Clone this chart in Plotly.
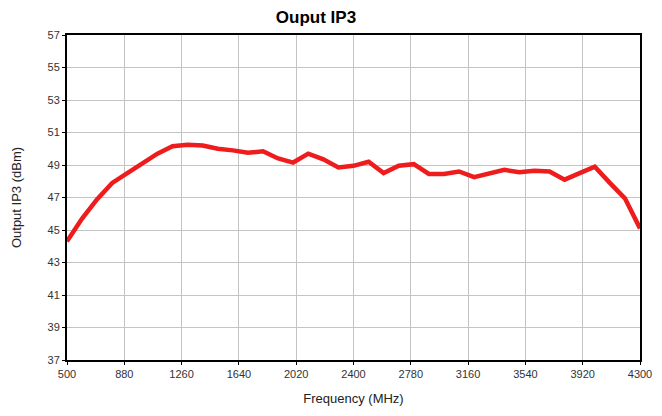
import plotly.graph_objects as go

freq_mhz = [500, 600, 700, 800, 900, 1000, 1100, 1200, 1300, 1400, 1500, 1600, 1700,
            1800, 1900, 2000, 2100, 2200, 2300, 2400, 2500, 2600, 2700, 2800, 2900,
            3000, 3100, 3200, 3300, 3400, 3500, 3600, 3700, 3800, 3900, 4000, 4100,
            4200, 4300]
oip3_dbm = [44.3, 45.7, 46.9, 47.9, 48.5, 49.1, 49.7, 50.15, 50.25, 50.2, 50.0, 49.9,
            49.75, 49.85, 49.4, 49.15, 49.7, 49.35, 48.85, 48.95, 49.2, 48.5, 48.95,
            49.05, 48.45, 48.45, 48.6, 48.25, 48.5, 48.7, 48.55, 48.65, 48.6, 48.1,
            48.5, 48.9, 47.9, 46.95, 45.1]
x_ticks = [500, 880, 1260, 1640, 2020, 2400, 2780, 3160, 3540, 3920, 4300]
y_ticks = [37, 39, 41, 43, 45, 47, 49, 51, 53, 55, 57]

FONT = "Liberation Sans Narrow, Liberation Sans, Arial, sans-serif"

fig = go.Figure()
fig.add_trace(go.Scatter(x=freq_mhz, y=oip3_dbm, mode="lines",
                         line=dict(color="#ee1c1c", width=4.5), showlegend=False))

fig.update_layout(
    width=662, height=416,
    margin=dict(l=67, r=22, t=35, b=56),
    paper_bgcolor="white", plot_bgcolor="white",
    title=dict(text="<b>Ouput IP3</b>", x=316/662, xanchor="center", xref="container",
               y=1 - 17/416, yanchor="middle",
               font=dict(family="Liberation Sans, Arial, sans-serif", size=17, color="black")),
    font=dict(family=FONT, color="#222"),
)
fig.update_xaxes(range=[500, 4300], tickvals=x_ticks, ticktext=[str(v) for v in x_ticks],
                 showgrid=True, gridcolor="#c4c4c4", gridwidth=1,
                 showline=True, linecolor="black", linewidth=2, mirror=True,
                 ticks="outside", ticklen=3, tickcolor="black", automargin=False,
                 tickfont=dict(size=11, family=FONT, color="#333"),
                 title=dict(text="Frequency (MHz)", font=dict(size=13, family=FONT, color="#222"), standoff=15),
                 zeroline=False)
fig.update_yaxes(range=[37, 57], tickvals=y_ticks, ticktext=[str(v) for v in y_ticks],
                 showgrid=True, gridcolor="#c4c4c4", gridwidth=1,
                 showline=True, linecolor="black", linewidth=2, mirror=True,
                 ticks="outside", ticklen=3, tickcolor="black", automargin=False,
                 tickfont=dict(size=11, family=FONT, color="#333"),
                 title=dict(text="Output IP3 (dBm)", font=dict(size=13, family=FONT, color="#222"), standoff=23),
                 zeroline=False)

fig.write_html("out.html", config={"displayModeBar": False},
               post_script="document.body.style.margin='0';")
